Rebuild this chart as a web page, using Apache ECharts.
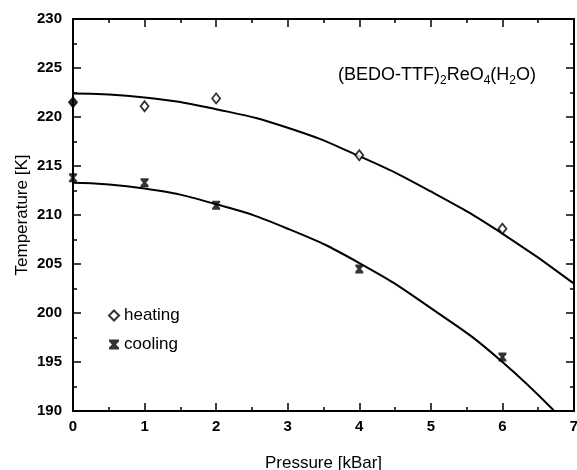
<!DOCTYPE html>
<html>
<head>
<meta charset="utf-8">
<script src="https://cdn.jsdelivr.net/npm/echarts@6/dist/echarts.min.js"></script>
<style>
  html, body { margin: 0; padding: 0; background: #fff; }
  #chart { width: 577px; height: 470px; }
</style>
</head>
<body>
<div id="chart"></div>
<script>
// measured points
const pressure = [0, 1, 2, 4, 6];
const heating = [221.5, 221.1, 221.9, 216.1, 208.6];
const cooling = [213.8, 213.3, 211.0, 204.5, 195.5];

// fitted curves
const fitPressure = [0, 1, 2, 3, 4, 5, 6, 7];
const heatingFit = [222.4, 222.0, 220.8, 218.9, 216.0, 212.4, 208.1, 203.0];
const coolingFit = [213.3, 212.7, 211.1, 208.6, 205.1, 200.5, 195.0, 187.9];

// filled "asterisk" block with side notches, as in the scan
const asterisk = "path://M0,0 L10,0 L10,2 L7,5 L10,8 L10,10 L0,10 L0,8 L3,5 L0,2 Z";

function pairs(xs, ys) {
    return xs.map((x, i) => [x, ys[i]]);
}

const FONT = "Liberation Sans, Arial, sans-serif";

function frameAxis(extra) {
    return Object.assign({
        axisLine: { show: true, onZero: false, lineStyle: { color: "#000", width: 2 } },
        axisTick: { show: true, inside: true, length: 8, lineStyle: { color: "#000", width: 1.5 } },
        minorTick: { show: true, splitNumber: 2, length: 4, lineStyle: { color: "#000", width: 1.5 } },
        splitLine: { show: false },
        axisLabel: { show: false }
    }, extra);
}

const chart = echarts.init(document.getElementById("chart"));

chart.setOption({
    animation: false,
    backgroundColor: "#fff",
    textStyle: { fontFamily: FONT },

    title: {
        left: 333,
        top: 58,
        text: "(BEDO-TTF){s|2}ReO{s|4}(H{s|2}O)",
        textStyle: {
            fontFamily: FONT,
            fontSize: 18,
            fontWeight: "normal",
            color: "#000",
            rich: {
                s: { fontSize: 12, fontFamily: FONT, color: "#000", padding: [12, 0, 0, 0] }
            }
        }
    },

    legend: {
        data: ["heating", "cooling"],
        orient: "vertical",
        left: 103,
        top: 302,
        itemWidth: 10,
        itemHeight: 10,
        itemGap: 12,
        textStyle: { fontFamily: FONT, fontSize: 17, color: "#000" }
    },

    grid: {
        left: 73,
        right: 3,
        top: 19,
        bottom: 59,
        outerBoundsMode: "none"
    },

    xAxis: [
        frameAxis({
            type: "value",
            position: "bottom",
            min: 0,
            max: 7,
            interval: 1,
            name: "Pressure [kBar]",
            nameLocation: "middle",
            nameGap: 44,
            nameTextStyle: { fontFamily: FONT, fontSize: 17, color: "#000" },
            axisLabel: {
                show: true,
                margin: 8,
                fontFamily: FONT,
                fontSize: 15,
                fontWeight: "bold",
                color: "#000"
            }
        }),
        frameAxis({
            type: "value",
            position: "top",
            min: 0,
            max: 7,
            interval: 1
        })
    ],

    yAxis: [
        frameAxis({
            type: "value",
            position: "left",
            min: 190,
            max: 230,
            interval: 5,
            name: "Temperature [K]",
            nameLocation: "middle",
            nameGap: 42,
            nameMoveOverlap: false,
            nameTextStyle: { fontFamily: FONT, fontSize: 17, color: "#000" },
            axisLabel: {
                show: true,
                margin: 11,
                fontFamily: FONT,
                fontSize: 15,
                fontWeight: "bold",
                color: "#000"
            }
        }),
        frameAxis({
            type: "value",
            position: "right",
            min: 190,
            max: 230,
            interval: 5
        })
    ],

    series: [
        {
            name: "heating fit",
            type: "line",
            smooth: 0.5,
            symbol: "none",
            clip: true,
            lineStyle: { color: "#000", width: 2 },
            data: pairs(fitPressure, heatingFit),
            z: 2
        },
        {
            name: "cooling fit",
            type: "line",
            smooth: 0.5,
            symbol: "none",
            clip: true,
            lineStyle: { color: "#000", width: 2 },
            data: pairs(fitPressure, coolingFit),
            z: 2
        },
        {
            name: "heating",
            type: "scatter",
            symbol: "diamond",
            symbolSize: [8, 10],
            itemStyle: { color: "#fff", borderColor: "#000", borderWidth: 1.8 },
            // the point sitting on the axis prints solid in the scan
            data: pairs(pressure, heating).map((p, i) =>
                i === 0 ? { value: p, itemStyle: { color: "#000" } } : p),
            z: 3
        },
        {
            name: "cooling",
            type: "scatter",
            symbol: asterisk,
            symbolSize: [8, 9],
            itemStyle: { color: "#000" },
            data: pairs(pressure, cooling),
            z: 3
        }
    ]
});
</script>
</body>
</html>
